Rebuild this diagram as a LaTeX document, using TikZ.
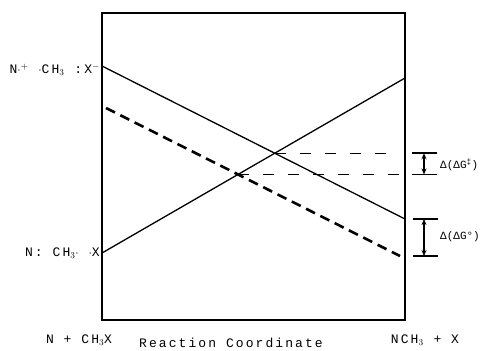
\documentclass[tikz,border=0pt]{standalone}
\usepackage{fontspec}
\usepackage{tikz}
\usetikzlibrary{arrows.meta, calc}
\newfontfamily\mesin[LetterSpace=16]{Liberation Mono}
\newfontfamily\mesinrapat{Liberation Mono}

\begin{document}
\begin{tikzpicture}[x=1pt, y=-1pt,
    kurva/.style={line width=1.3pt},
    putus/.style={line width=2.6pt, dash pattern=on 10pt off 6pt},
    bantu/.style={line width=0.8pt, dash pattern=on 11pt off 14pt},
    palang/.style={line width=1.6pt},
    ukur/.style={{Stealth[length=6pt, width=5pt]}-{Stealth[length=6pt, width=5pt]}, line width=1.2pt},
    teks/.style={font=\mesin\fontsize{13}{13}\selectfont, inner sep=0pt},
    tekskecil/.style={font=\mesinrapat\fontsize{11}{11}\selectfont, inner sep=0pt}
  ]
    \useasboundingbox (0,0) rectangle (480,351);
    % frame of the plot
    \draw[kurva] (102,13) rectangle (405,320);

    % end points of the three curves
    \coordinate (ionkiri)  at (102,66);
    \coordinate (ionkanan) at (405,219);
    \coordinate (radkiri)  at (102,253);
    \coordinate (radkanan) at (405,78);
    \coordinate (putkiri)  at (106,108);
    \coordinate (putkanan) at (400,256);
    \coordinate (ujung)    at (399,0);
    \coordinate (sumbu)    at (424,0);

    \draw[kurva] (ionkiri) -- (ionkanan);
    \draw[kurva] (radkiri) -- (radkanan);
    \draw[putus] (putkiri) -- (putkanan);

    % crossing points and guide lines
    \coordinate (silang)  at (intersection of ionkiri--ionkanan and radkiri--radkanan);
    \coordinate (silang2) at (intersection of putkiri--putkanan and radkiri--radkanan);
    \draw[bantu] (silang) -- (silang -| ujung);
    \draw[bantu] (silang2) -- (silang2 -| ujung);

    % measuring bars
    \draw[palang] ([xshift=-12pt]silang -| sumbu) -- ([xshift=13pt]silang -| sumbu);
    \draw[palang] ([xshift=-12pt]silang2 -| sumbu) -- ([xshift=13pt]silang2 -| sumbu);
    \draw[ukur] (silang -| sumbu) -- (silang2 -| sumbu);
    \draw[palang] ([xshift=-11pt]ionkanan -| sumbu) -- ([xshift=14pt]ionkanan -| sumbu);
    \draw[palang] ([xshift=-11pt]putkanan -| sumbu) -- ([xshift=14pt]putkanan -| sumbu);
    \draw[ukur] (ionkanan -| sumbu) -- (putkanan -| sumbu);

    % labels
    \node[teks, anchor=east] (ionlbl) at (100,70) {N$\cdot^{+}$ $\cdot$CH$_3$ :X$^{-}$};
    \node[teks, anchor=east] (radlbl) at (100,253) {N: CH$_3\cdot$ $\cdot$X};
    \node[teks] (awal)   at (79,340)  {N + CH$_3$X};
    \node[teks] (sumbux) at (231,343) {Reaction Coordinate};
    \node[teks] (akhir)  at (425,340) {NCH$_3$ + X};
    \node[tekskecil, anchor=west] (dgts)  at (440,165) {Δ(ΔG\textsuperscript{‡})};
    \node[tekskecil, anchor=west] (dgnol) at (440,237) {Δ(ΔG°)};
\end{tikzpicture}
\end{document}
